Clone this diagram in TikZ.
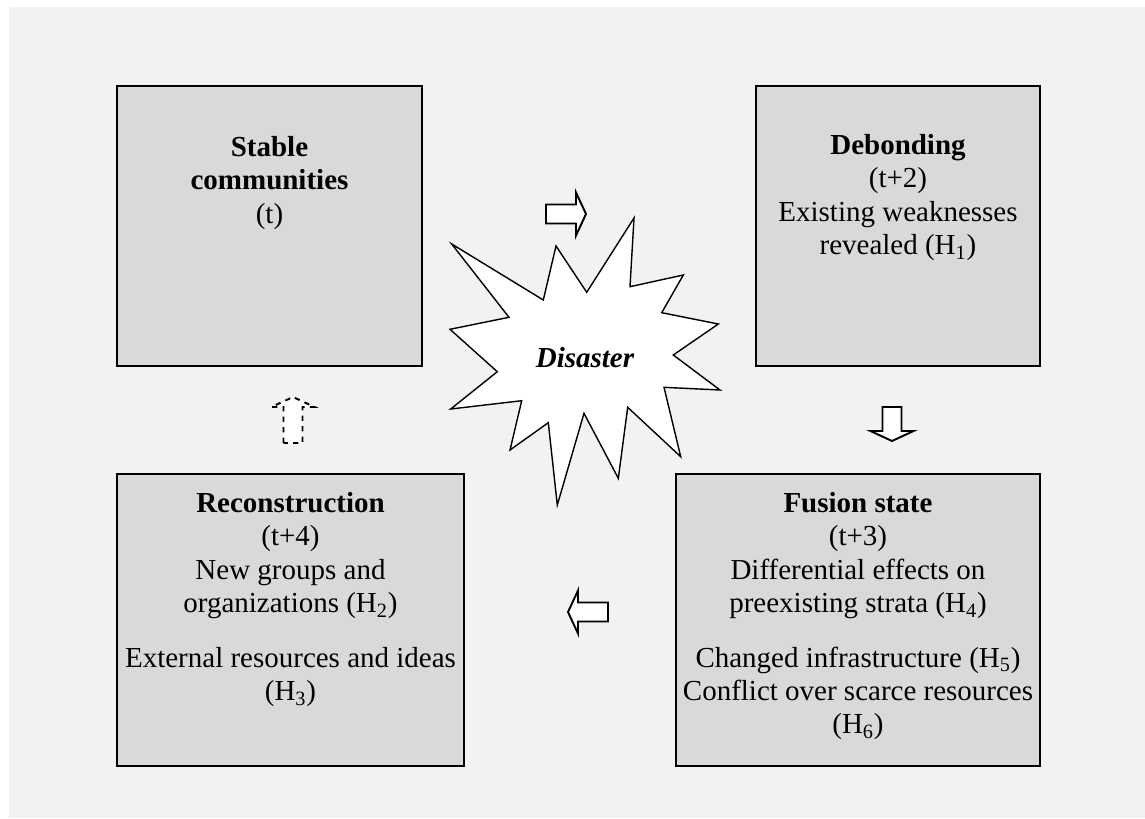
\documentclass[tikz,border=0pt]{standalone}
\usepackage{fontspec}
\setmainfont{Liberation Serif}
\usetikzlibrary{fit}
\definecolor{panelgray}{HTML}{F2F2F2}
\definecolor{boxgray}{HTML}{D9D9D9}
\tikzset{
  stagebox/.style={draw, line width=1.6pt, fill=boxgray, inner sep=0pt},
  stagetext/.style={anchor=north, inner sep=0pt, align=center,
    font=\fontsize{16.5}{19}\selectfont},
  pics/blockarrow/.style={code={
    \draw[pic actions, line width=1.1pt, fill=white, line join=miter]
      (0,-9.5) -- (#1-10,-9.5) -- (#1-10,-21.5) -- (#1,0) -- (#1-10,21.5) -- (#1-10,9.5) -- (0,9.5) -- cycle;
  }}
}
\begin{document}
\begin{tikzpicture}[x=0.02cm, y=-0.02cm]
    \useasboundingbox (0,0) rectangle (1145,818);
    \fill [white] (0,0) rectangle (1145,818);
    \fill [panelgray] (9,7) rectangle (1145,818);
    % the four stages
    \node [stagebox, fit={(117,86) (422,366)}] (stable) {};
    \node [stagebox, fit={(756,86) (1040,366)}] (debond) {};
    \node [stagebox, fit={(117,474) (464,766)}] (recon) {};
    \node [stagebox, fit={(676,474) (1040,766)}] (fusion) {};
    \node [stagetext] (stabletxt) at (269.5,136) {\textbf{Stable}\\\textbf{communities}\\(t)};
    \node [stagetext] (debondtxt) at (898,134) {\textbf{Debonding}\\(t+2)\\Existing weaknesses\\revealed (H\textsubscript{1})};
    \node [stagetext] (recontxt) at (290.5,492) {\textbf{Reconstruction}\\(t+4)\\New groups and\\organizations (H\textsubscript{2})\\[12pt]External resources and ideas\\(H\textsubscript{3})};
    \node [stagetext] (fusiontxt) at (858,492) {\textbf{Fusion state}\\(t+3)\\Differential effects on\\preexisting strata (H\textsubscript{4})\\[12pt]Changed infrastructure (H\textsubscript{5})\\Conflict over scarce resources\\(H\textsubscript{6})};
    % the disaster burst
    \draw [fill=white, line width=0.8pt, line join=miter]
      (451.7,244) -- (543.3,300) -- (556,246) -- (586.7,292.3) -- (634,218) -- (630,286.7)
      -- (683.3,275) -- (661.7,312.7) -- (718.3,324) -- (673.3,355) -- (720,390)
      -- (664,387.3) -- (680.7,456.7) -- (627.7,407.3) -- (618.3,478.3) -- (584,413.3)
      -- (557.3,505) -- (548.3,422.7) -- (510,450) -- (521.7,400.7) -- (450.7,409)
      -- (497.3,371.7) -- (450,329.3) -- (509,317.3) -- cycle;
    \node [font=\fontsize{16.5}{19}\selectfont\bfseries\itshape] (disaster) at (585,358) {Disaster};
    % the cycle arrows
    \pic at (546,214) {blockarrow=40};
    \pic [rotate=-90] at (892,407) {blockarrow=34};
    \pic [rotate=180] at (608,612) {blockarrow=40};
    \pic [rotate=90, dashed] at (293,443) {blockarrow=46};
\end{tikzpicture}
\end{document}
